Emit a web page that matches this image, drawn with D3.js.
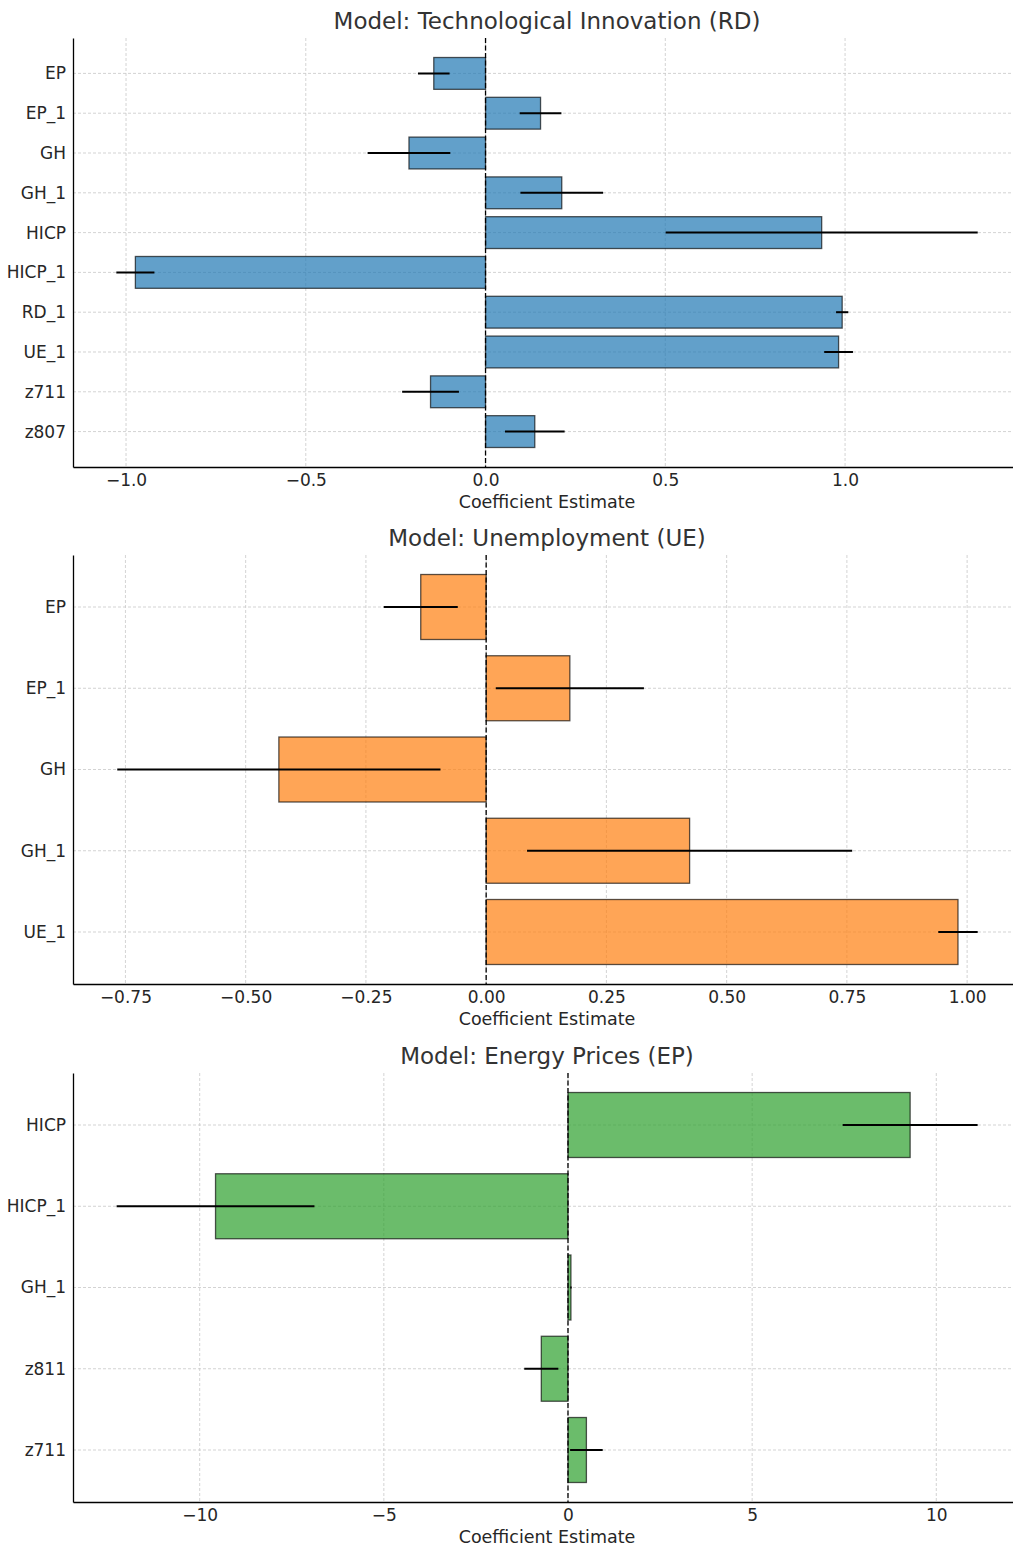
<!DOCTYPE html>
<html>
<head>
<meta charset="utf-8">
<script src="https://cdn.jsdelivr.net/npm/d3@7"></script>
<style>
  body { margin: 0; background: #fff; }
  text { font-family: 'DejaVu Sans', sans-serif; }
</style>
</head>
<body>
<div id="chart"></div>
<script>
// Model: Technological Innovation (RD)
const rdVars = ['EP', 'EP_1', 'GH', 'GH_1', 'HICP', 'HICP_1', 'RD_1', 'UE_1', 'z711', 'z807']
const rdCoef = [-0.144, 0.153, -0.213, 0.212, 0.935, -0.974, 0.992, 0.982, -0.153, 0.137]
const rdErr = [0.044, 0.058, 0.115, 0.115, 0.434, 0.053, 0.017, 0.040, 0.079, 0.083]
const rdTicks = [-1.0, -0.5, 0.0, 0.5, 1.0]

// Model: Unemployment (UE)
const ueVars = ['EP', 'EP_1', 'GH', 'GH_1', 'UE_1']
const ueCoef = [-0.136, 0.174, -0.431, 0.423, 0.981]
const ueErr = [0.077, 0.154, 0.336, 0.338, 0.041]
const ueTicks = [-0.75, -0.5, -0.25, 0, 0.25, 0.5, 0.75, 1.0]

// Model: Energy Prices (EP)
const epVars = ['HICP', 'HICP_1', 'GH_1', 'z811', 'z711']
const epCoef = [9.29, -9.57, 0.08, -0.725, 0.50]
const epErr = [1.833, 2.686, 0.02, 0.463, 0.443]
const epTicks = [-10, -5, 0, 5, 10]

const W = 1013
const H = 1550
const plotLeft = 73
const plotRight = 1021 // axes run a little past the picture edge
const plotH = 429

const panels = [
  { title: 'Model: Technological Innovation (RD)', vars: rdVars, coef: rdCoef, err: rdErr, ticks: rdTicks, fmt: '.1f', color: '#1f77b4', domain: [-1.1475, 1.4894], top: 38 },
  { title: 'Model: Unemployment (UE)', vars: ueVars, coef: ueCoef, err: ueErr, ticks: ueTicks, fmt: '.2f', color: '#ff7f0e', domain: [-0.859, 1.112], top: 555 },
  { title: 'Model: Energy Prices (EP)', vars: epVars, coef: epCoef, err: epErr, ticks: epTicks, fmt: 'd', color: '#2ca02c', domain: [-13.44, 12.30], top: 1073 }
]

const svg = d3.select('#chart')
  .append('svg')
  .attr('width', W)
  .attr('height', H)

const drawPanel = (p) => {
  const n = p.vars.length
  const top = p.top
  const bottom = top + plotH
  const g = svg.append('g')

  const x = d3.scaleLinear()
    .domain(p.domain)
    .range([plotLeft, plotRight])

  // matplotlib style limits: bars of height 0.8, 5% margin
  const pad = 0.05 * (n - 0.2)
  const y = d3.scaleLinear()
    .domain([-0.4 - pad, n - 0.6 + pad])
    .range([top, bottom])

  // grid
  g.append('g').selectAll('line')
    .data(p.ticks)
    .join('line')
    .attr('x1', d => x(d)).attr('x2', d => x(d))
    .attr('y1', top).attr('y2', bottom)
    .attr('stroke', '#c8c8c8')
    .attr('stroke-width', 0.8)
    .attr('stroke-dasharray', '3,2')

  g.append('g').selectAll('line')
    .data(d3.range(n))
    .join('line')
    .attr('x1', plotLeft).attr('x2', plotRight)
    .attr('y1', d => y(d)).attr('y2', d => y(d))
    .attr('stroke', '#c8c8c8')
    .attr('stroke-width', 0.8)
    .attr('stroke-dasharray', '3,2')

  // bars
  g.append('g').selectAll('rect')
    .data(p.coef)
    .join('rect')
    .attr('x', d => x(Math.min(0, d)))
    .attr('width', d => Math.abs(x(d) - x(0)))
    .attr('y', (d, i) => y(i - 0.4))
    .attr('height', (d, i) => y(i + 0.4) - y(i - 0.4))
    .attr('fill', p.color)
    .attr('fill-opacity', 0.7)
    .attr('stroke', '#000')
    .attr('stroke-opacity', 0.65)
    .attr('stroke-width', 1.3)

  // error bars
  g.append('g').selectAll('line')
    .data(p.coef)
    .join('line')
    .attr('x1', (d, i) => x(d - p.err[i]))
    .attr('x2', (d, i) => x(d + p.err[i]))
    .attr('y1', (d, i) => y(i))
    .attr('y2', (d, i) => y(i))
    .attr('stroke', '#000')
    .attr('stroke-width', 2)

  // zero line
  g.append('line')
    .attr('x1', x(0)).attr('x2', x(0))
    .attr('y1', top).attr('y2', bottom)
    .attr('stroke', '#000')
    .attr('stroke-width', 1.3)
    .attr('stroke-dasharray', '5,2.5')

  // axes
  const xAxis = g.append('g')
    .attr('transform', 'translate(0,' + bottom + ')')
    .call(d3.axisBottom(x).tickValues(p.ticks).tickFormat(d3.format(p.fmt)).tickSize(0).tickPadding(7))
  xAxis.select('.domain').attr('stroke', '#000').attr('stroke-width', 1.3)
  xAxis.selectAll('text').attr('font-size', 17).attr('fill', '#262626').attr('font-family', "'DejaVu Sans', sans-serif")

  const yAxis = g.append('g')
    .attr('transform', 'translate(' + plotLeft + ',0)')
    .call(d3.axisLeft(y).tickValues(d3.range(n)).tickFormat(i => p.vars[i]).tickSize(0).tickPadding(7))
  yAxis.select('.domain').attr('stroke', '#000').attr('stroke-width', 1.3)
  yAxis.selectAll('text').attr('font-size', 17).attr('fill', '#262626').attr('font-family', "'DejaVu Sans', sans-serif")

  // title & x label
  const cx = (plotLeft + plotRight) / 2
  g.append('text')
    .attr('x', cx)
    .attr('y', top - 9)
    .attr('text-anchor', 'middle')
    .attr('font-size', 23)
    .attr('fill', '#333')
    .text(p.title)

  g.append('text')
    .attr('x', cx)
    .attr('y', bottom + 41)
    .attr('text-anchor', 'middle')
    .attr('font-size', 17.5)
    .attr('fill', '#262626')
    .text('Coefficient Estimate')
}

panels.forEach(drawPanel)
</script>
</body>
</html>
